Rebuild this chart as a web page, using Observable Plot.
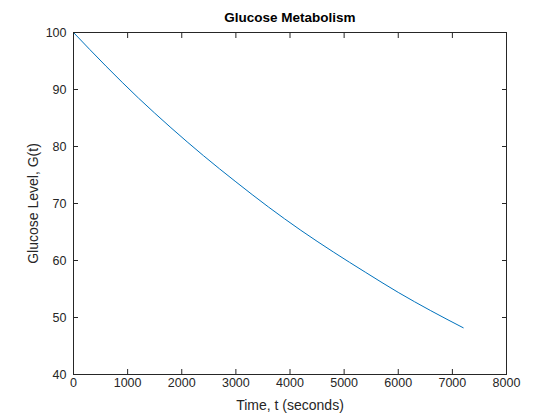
<!DOCTYPE html>
<html>
<head>
<meta charset="utf-8">
<script src="https://cdn.jsdelivr.net/npm/d3@7"></script>
<script src="https://cdn.jsdelivr.net/npm/@observablehq/plot@0.6"></script>
<style>
  html, body { margin: 0; padding: 0; background: #fff; }
  #wrap { position: relative; width: 560px; height: 420px; font-family: "Liberation Sans", Arial, sans-serif; }
  #title { position: absolute; left: 73px; width: 434px; top: 10px; text-align: center; font-weight: bold; font-size: 13.5px; color: #000; }
</style>
</head>
<body>
<div id="wrap">
  <div id="title">Glucose Metabolism</div>
</div>
<script>
// Readings from the reference curve
const times = [0, 600, 1200, 1800, 2400, 3000, 3600, 4200, 4800, 5400, 6000, 6600, 7200];
const glucose = [100, 94.1, 88.5, 83.3, 78.4, 73.8, 69.4, 65.3, 61.5, 57.9, 54.4, 51.2, 48.2];
const xTicks = [0, 1000, 2000, 3000, 4000, 5000, 6000, 7000, 8000];
const yTicks = [40, 50, 60, 70, 80, 90, 100];

const data = times.map((t, i) => ({t, g: glucose[i]}));
const ink = "#262626";

const chart = Plot.plot({
  width: 560,
  height: 420,
  marginLeft: 73,
  marginRight: 54,
  marginTop: 32,
  marginBottom: 46,
  style: {fontFamily: "'Liberation Sans', Arial, sans-serif", fontSize: "12.5px", color: ink, background: "transparent"},
  x: {domain: [0, 8000]},
  y: {domain: [40, 100]},
  marks: [
    Plot.line(data, {x: "t", y: "g", stroke: "#0072BD", strokeWidth: 1, curve: "monotone-x"}),
    Plot.frame({stroke: ink, strokeWidth: 1}),
    Plot.axisX({ticks: xTicks, anchor: "bottom", tickSize: -5, tickPadding: 9, tickFormat: d => String(d), label: null, stroke: ink, fill: ink, fontSize: 12.5}),
    Plot.axisX({ticks: xTicks, anchor: "top", tickSize: -5, tickFormat: () => "", label: null, stroke: ink}),
    Plot.axisY({ticks: yTicks, anchor: "left", tickSize: -5, tickPadding: 12, tickFormat: d => String(d), label: null, stroke: ink, fill: ink, fontSize: 12.5}),
    Plot.axisY({ticks: yTicks, anchor: "right", tickSize: -5, tickFormat: () => "", label: null, stroke: ink}),
    Plot.text(["Time, t (seconds)"], {frameAnchor: "bottom", dy: 35, fontSize: 14, fill: ink}),
    Plot.text(["Glucose Level, G(t)"], {frameAnchor: "left", textAnchor: "middle", dx: -40, rotate: -90, fontSize: 14, fill: ink})
  ]
});
document.getElementById("wrap").prepend(chart);
</script>
</body>
</html>
